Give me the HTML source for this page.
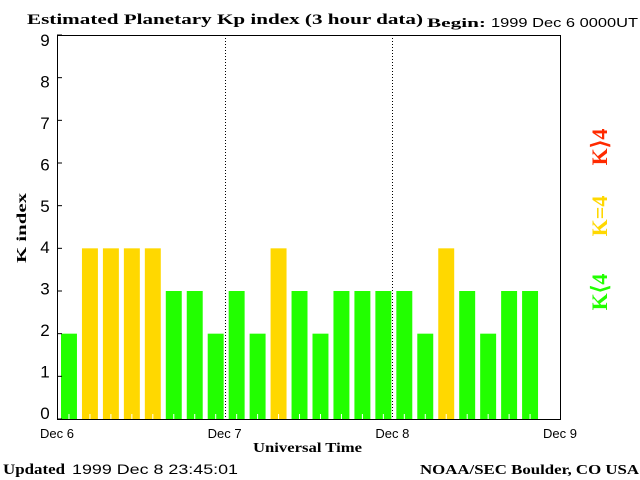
<!DOCTYPE html>
<html><head><meta charset="utf-8"><style>
html,body{margin:0;padding:0;background:#fff}
svg{display:block}
.ser{font-family:"Liberation Serif",serif;font-weight:bold}
.san{font-family:"Liberation Sans",sans-serif}
</style></head><body>
<svg id="chart" width="640" height="480">
<text class="ser" x="27" y="24" font-size="15" textLength="396" lengthAdjust="spacingAndGlyphs">Estimated Planetary Kp index (3 hour data)</text>
<text class="ser" x="427" y="27" font-size="13" textLength="59" lengthAdjust="spacingAndGlyphs">Begin:</text>
<text class="san" x="491" y="27" font-size="13" textLength="147" lengthAdjust="spacingAndGlyphs">1999 Dec 6 0000UT</text>
<text class="ser" x="26" y="228" font-size="14" textLength="70" lengthAdjust="spacingAndGlyphs" transform="rotate(-90 26 228)" text-anchor="middle">K index</text>
<text class="ser" x="253" y="452" font-size="14" textLength="109" lengthAdjust="spacingAndGlyphs">Universal Time</text>
<text class="ser" x="3" y="474" font-size="15" textLength="62" lengthAdjust="spacingAndGlyphs">Updated</text>
<text class="san" x="72" y="474" font-size="14" textLength="166" lengthAdjust="spacingAndGlyphs">1999 Dec  8 23:45:01</text>
<text class="ser" x="420" y="474" font-size="14" textLength="219" lengthAdjust="spacingAndGlyphs">NOAA/SEC Boulder, CO USA</text>
<g id="bars"></g>
<g id="axes"></g>
<g font-family="Liberation Serif,serif" font-size="22" font-weight="bold" text-anchor="middle">
<text x="607" y="147" fill="#ff2a00" transform="rotate(-90 607 147)">K⟩4</text>
<text x="607" y="216" fill="#ffd800" transform="rotate(-90 607 216)">K=4</text>
<text x="607" y="292" fill="#22ff00" transform="rotate(-90 607 292)">K⟨4</text>
</g>
</svg>
<script>
const kValues = [2,4,4,4,4,3,3,2, 3,2,4,3,2,3,3,3, 3,2,4,3,2,3,3];
const yTicks = [0,1,2,3,4,5,6,7,8,9];
const dayLabels = ["Dec 6","Dec 7","Dec 8","Dec 9"];
const NS="http://www.w3.org/2000/svg";
const X0=57,X1=560,Y0=419,Y1=35;
const slotsPerDay=8, days=3;
function xs(slot){return X0+slot*(X1-X0)/(slotsPerDay*days);}
function ys(v){return Y0-v*(Y0-Y1)/9;}
function mk(t,a,p){const e=document.createElementNS(NS,t);for(const k in a)e.setAttribute(k,a[k]);p.appendChild(e);return e;}
const bars=document.getElementById('bars'), axes=document.getElementById('axes');
kValues.forEach((v,i)=>{
  const col=v<4?'#22ff00':(v==4?'#ffd800':'#ff2a00');
  const w=xs(1)-xs(0);
  const r=mk('rect',{x:xs(i)+4,y:ys(v),width:w-5,height:Y0-ys(v),fill:col},bars);
  
  
  mk('line',{x1:xs(i)+w/2+1.5,x2:xs(i)+w/2+1.5,y1:Y0-5,y2:Y0,stroke:'#fff','stroke-width':1},bars);
});
for(let d=1;d<days;d++){
  const x=Math.round(xs(d*slotsPerDay))+0.5;
  const l=mk('line',{x1:x,x2:x,y1:Y1,y2:Y0,stroke:'#000','stroke-width':1,'stroke-dasharray':'1,2'},axes);
  
  
}
const fr=mk('rect',{x:X0+0.5,y:Y1+0.5,width:X1-X0,height:Y0-Y1,fill:'none',stroke:'#000','stroke-width':1},axes);


yTicks.forEach(v=>{
  const y=ys(v);
  mk('line',{x1:X0,x2:X0+5,y1:y,y2:y,stroke:'#000'},axes);
  const ly=413-v*(413-40)/9;
  const t=mk('text',{x:45,y:ly+6,'font-size':17,'text-anchor':'middle','font-family':'Liberation Sans,sans-serif'},axes);
  t.textContent=v;
  
  
});
dayLabels.forEach((s,i)=>{
  const t=mk('text',{x:xs(i*slotsPerDay),y:438,'font-size':13,'text-anchor':'middle','font-family':'Liberation Sans,sans-serif'},axes);
  t.textContent=s;
  
  
});
</script>
</body></html>
